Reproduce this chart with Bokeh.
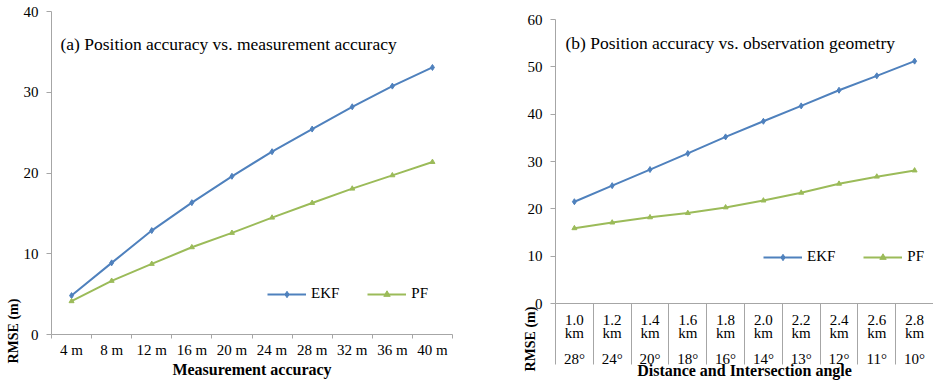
from bokeh.plotting import figure
from bokeh.models import Range1d, FixedTicker, Label, Legend, LegendItem, Title
from bokeh.embed import file_html
from bokeh.resources import INLINE

# ---- data ----
meas_labels = ["4 m", "8 m", "12 m", "16 m", "20 m", "24 m", "28 m", "32 m", "36 m", "40 m"]
ekf_a = [4.82, 8.87, 12.87, 16.33, 19.59, 22.64, 25.44, 28.20, 30.76, 33.07]
pf_a = [4.12, 6.64, 8.74, 10.80, 12.58, 14.47, 16.29, 18.06, 19.71, 21.36]

dist_labels = ["1.0", "1.2", "1.4", "1.6", "1.8", "2.0", "2.2", "2.4", "2.6", "2.8"]
dist_unit = "km"
angle_labels = ["28°", "24°", "20°", "18°", "16°", "14°", "13°", "12°", "11°", "10°"]
ekf_b = [21.5, 24.9, 28.3, 31.7, 35.2, 38.5, 41.75, 45.05, 48.1, 51.2]
pf_b = [15.9, 17.1, 18.2, 19.1, 20.3, 21.75, 23.4, 25.3, 26.8, 28.1]

title_a = "(a) Position accuracy vs. measurement accuracy"
title_b = "(b) Position accuracy vs. observation geometry"

BLUE = "#4F81BD"
GREEN = "#9BBB59"
AXIS = "#A6A6A6"
SERIF = "Liberation Serif"


def make_panel(labels, ekf, pf, ymax, title, xlabel, width, height, borders,
               minor_len, tick_standoff, xlabel_standoff, line_height,
               rmse_offset, rmse_standoff, title_xy, legend_xy):
    n = len(labels)
    xs = list(range(n))
    bl, br, bt, bb = borders
    p = figure(width=width, height=height, x_range=Range1d(-0.5, n - 0.5),
               y_range=Range1d(0, ymax), output_backend="svg", toolbar_location=None,
               min_border_left=bl, min_border_right=br, min_border_top=bt,
               min_border_bottom=bb)
    p.xgrid.visible = False
    p.ygrid.visible = False
    p.outline_line_color = None
    p.background_fill_color = "white"

    # x axis: labels at category centres, tick marks at category boundaries
    xa = p.xaxis[0]
    xa.ticker = FixedTicker(ticks=xs, minor_ticks=[i - 0.5 for i in range(n + 1)])
    xa.major_label_overrides = {i: lab for i, lab in enumerate(labels)}
    xa.major_tick_line_color = None
    xa.major_tick_out = 0
    xa.major_tick_in = 0
    xa.minor_tick_out = minor_len
    xa.minor_tick_in = 0
    xa.minor_tick_line_color = AXIS
    xa.axis_line_color = AXIS
    xa.major_label_standoff = tick_standoff
    xa.major_label_text_font = SERIF
    xa.major_label_text_font_size = "15px"
    xa.major_label_text_color = "black"
    xa.major_label_text_line_height = line_height
    xa.axis_label = xlabel
    xa.axis_label_standoff = xlabel_standoff
    xa.axis_label_text_font = SERIF
    xa.axis_label_text_font_style = "bold"
    xa.axis_label_text_font_size = "16px"
    xa.axis_label_text_color = "black"

    # y axis
    ya = p.yaxis[0]
    ya.ticker = FixedTicker(ticks=list(range(0, ymax + 1, 10)))
    ya.minor_tick_line_color = None
    ya.major_tick_out = 5
    ya.major_tick_in = 0
    ya.major_tick_line_color = AXIS
    ya.axis_line_color = AXIS
    ya.major_label_standoff = 8
    ya.major_label_text_font = SERIF
    ya.major_label_text_font_size = "15px"
    ya.major_label_text_color = "black"

    r1 = p.line(xs, ekf, line_color=BLUE, line_width=2)
    m1 = p.scatter(xs, ekf, marker="diamond", size=6, color=BLUE)
    r2 = p.line(xs, pf, line_color=GREEN, line_width=2)
    m2 = p.scatter(xs, pf, marker="triangle", size=5, color=GREEN)

    legend = Legend(items=[LegendItem(label="EKF", renderers=[r1, m1]),
                           LegendItem(label="PF", renderers=[r2, m2])],
                    orientation="horizontal", location=legend_xy,
                    border_line_color=None, background_fill_alpha=0,
                    padding=0, margin=0, spacing=28, glyph_width=39, glyph_height=16,
                    label_standoff=5, label_text_font=SERIF, label_text_font_size="15px",
                    label_text_color="black")
    p.add_layout(legend)

    p.add_layout(Label(x=title_xy[0], y=title_xy[1], x_units="screen", y_units="screen",
                       text=title, text_font=SERIF, text_font_size="17.5px",
                       text_baseline="middle", text_align="left", text_color="black"))

    # y-axis title, placed at the bottom end of the axis
    p.add_layout(Title(text="RMSE (m)", align="left", offset=rmse_offset,
                       standoff=rmse_standoff, text_font=SERIF, text_font_style="bold",
                       text_font_size="14px", text_color="black"), "left")
    return p


# panel (a): figure spans page x 0..470
p1 = make_panel(meas_labels, ekf_a, pf_a, 40, title_a, "Measurement accuracy",
                470, 381, (51, 18, 11, 47), 4, 3, 0, 1.2,
                rmse_offset=-29, rmse_standoff=0,
                title_xy=(9, 291), legend_xy=(216, 32))

# panel (b): figure spans page x 470..933
geo_labels = [f"{d}\n{dist_unit}\n\n{a}" for d, a in zip(dist_labels, angle_labels)]
p2 = make_panel(geo_labels, ekf_b, pf_b, 60, title_b, "Distance and Intersection angle",
                463, 381, (85, 0, 19, 77), 61, -53, -8, 0.82,
                rmse_offset=-68, rmse_standoff=-26,
                title_xy=(10, 261), legend_xy=(208, 38))

template = """
{% block postamble %}
<style>
  body { display: flex !important; flex-direction: row; align-items: flex-start; }
</style>
{% endblock %}
"""

open("out.html", "w").write(file_html([p1, p2], INLINE, template=template))
